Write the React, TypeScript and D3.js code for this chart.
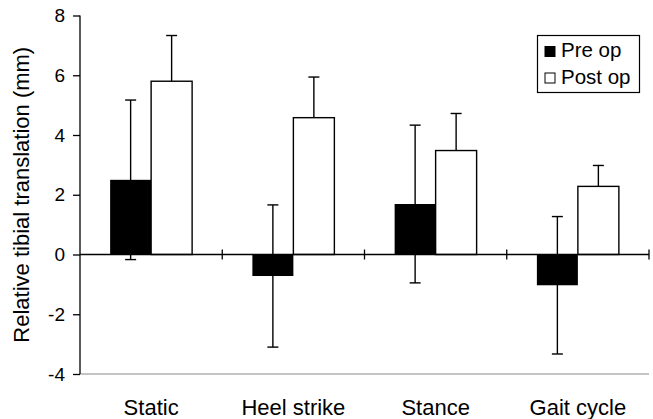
import React, { useEffect, useRef } from 'react';
import * as d3 from 'd3';

// Phases of gait
const categories = ['Static', 'Heel strike', 'Stance', 'Gait cycle'];
// mean relative tibial translation (mm)
const preOp = [2.5, -0.72, 1.69, -1.03];
const postOp = [5.8, 4.58, 3.48, 2.28];
// standard deviations
const preOpSd = [2.67, 2.38, 2.64, 2.3];
const postOpSd = [1.53, 1.36, 1.24, 0.7];
const yTicks = [-4, -2, 0, 2, 4, 6, 8];
const seriesNames = ['Pre op', 'Post op'];

const App = () => {
  const svgRef = useRef<SVGSVGElement>(null);

  useEffect(() => {
    const svg = d3.select(svgRef.current);
    svg.selectAll('*').remove();

    const font = '"Liberation Sans", Arial, Helvetica, sans-serif';
    const left = 80, right = 649, top = 15.5, bottom = 374;

    const x = d3.scaleBand<string>().domain(categories).range([left, right]).padding(0);
    const x1 = d3.scaleBand<string>().domain(['pre', 'post']).range([0, x.bandwidth()]).paddingInner(0).paddingOuter(0.735);
    const y = d3.scaleLinear().domain([-4, 8]).range([bottom, top]);

    const rows = categories.map((c, i) => ({
      cat: c,
      pre: preOp[i], preSd: preOpSd[i],
      post: postOp[i], postSd: postOpSd[i],
    }));

    // bottom frame line
    svg.append('line')
      .attr('x1', left).attr('x2', right)
      .attr('y1', y(-4)).attr('y2', y(-4))
      .attr('stroke', '#8a8a8a').attr('stroke-width', 1);

    // y axis
    const yAxis = svg.append('g')
      .attr('transform', `translate(${left},0)`)
      .call(d3.axisLeft(y).tickValues(yTicks).tickSize(7).tickPadding(8).tickFormat(d => String(d)));
    yAxis.select('.domain').attr('stroke', '#000').attr('stroke-width', 1.3)
      .attr('d', `M0,${y(8)}V${y(-4)}`);
    yAxis.selectAll('.tick line').attr('stroke', '#000').attr('stroke-width', 1.3);
    yAxis.selectAll('.tick text')
      .attr('font-family', font).attr('font-size', 19).attr('fill', '#000');

    // error bars (drawn first so bars cover inner half)
    const cap = 5.5;
    const errG = svg.append('g').attr('stroke', '#000').attr('stroke-width', 1.4);
    rows.forEach(d => {
      const cx = x(d.cat)! + x1('pre')! + x1.bandwidth() / 2;
      errG.append('line').attr('x1', cx).attr('x2', cx)
        .attr('y1', y(d.pre + d.preSd)).attr('y2', y(d.pre - d.preSd));
      errG.append('line').attr('x1', cx - cap).attr('x2', cx + cap)
        .attr('y1', y(d.pre + d.preSd)).attr('y2', y(d.pre + d.preSd));
      errG.append('line').attr('x1', cx - cap).attr('x2', cx + cap)
        .attr('y1', y(d.pre - d.preSd)).attr('y2', y(d.pre - d.preSd));

      const px = x(d.cat)! + x1('post')! + x1.bandwidth() / 2;
      errG.append('line').attr('x1', px).attr('x2', px)
        .attr('y1', y(d.post + d.postSd)).attr('y2', y(d.post));
      errG.append('line').attr('x1', px - cap).attr('x2', px + cap)
        .attr('y1', y(d.post + d.postSd)).attr('y2', y(d.post + d.postSd));
    });

    // bars
    svg.append('g').selectAll('rect.pre')
      .data(rows).enter().append('rect')
      .attr('x', d => x(d.cat)! + x1('pre')!)
      .attr('y', d => y(Math.max(0, d.pre)))
      .attr('width', x1.bandwidth())
      .attr('height', d => Math.abs(y(d.pre) - y(0)))
      .attr('fill', '#000');

    svg.append('g').selectAll('rect.post')
      .data(rows).enter().append('rect')
      .attr('x', d => x(d.cat)! + x1('post')!)
      .attr('y', d => y(Math.max(0, d.post)))
      .attr('width', x1.bandwidth())
      .attr('height', d => Math.abs(y(d.post) - y(0)))
      .attr('fill', '#fff').attr('stroke', '#000').attr('stroke-width', 1.4);

    // x axis at zero
    svg.append('line')
      .attr('x1', left).attr('x2', right)
      .attr('y1', y(0)).attr('y2', y(0))
      .attr('stroke', '#000').attr('stroke-width', 1.3);
    svg.append('g').selectAll('line')
      .data(categories.slice(1).concat(['end']))
      .enter().append('line')
      .attr('x1', d => d === 'end' ? right : x(d)!)
      .attr('x2', d => d === 'end' ? right : x(d)!)
      .attr('y1', y(0) - 5).attr('y2', y(0) + 5)
      .attr('stroke', '#000').attr('stroke-width', 1.3);

    // category labels
    svg.append('g').selectAll('text')
      .data(categories).enter().append('text')
      .attr('x', d => x(d)! + x.bandwidth() / 2)
      .attr('y', 414.5)
      .attr('text-anchor', 'middle')
      .attr('font-family', font).attr('font-size', 22)
      .text(d => d);

    // y label
    svg.append('text')
      .attr('transform', `translate(29,${(top + bottom) / 2}) rotate(-90)`)
      .attr('text-anchor', 'middle')
      .attr('font-family', font).attr('font-size', 22)
      .text('Relative tibial translation (mm)');

    // legend
    const legend = svg.append('g');
    legend.append('rect')
      .attr('x', 537.5).attr('y', 35.5).attr('width', 102).attr('height', 57)
      .attr('fill', '#fff').attr('stroke', '#000').attr('stroke-width', 1.2);
    seriesNames.forEach((name, i) => {
      const row = legend.append('g').attr('transform', `translate(545,${46.5 + i * 26.5})`);
      row.append('rect').attr('width', 10).attr('height', 10)
        .attr('fill', i === 0 ? '#000' : '#fff').attr('stroke', '#000').attr('stroke-width', 1);
      row.append('text').attr('x', 16).attr('y', 10.5)
        .attr('font-family', font).attr('font-size', 20.5)
        .text(name);
    });
  }, []);

  return (
    <svg ref={svgRef} width={653} height={419}
      style={{ position: 'absolute', left: 0, top: 0, background: '#fff' }} />
  );
};

export default App;
